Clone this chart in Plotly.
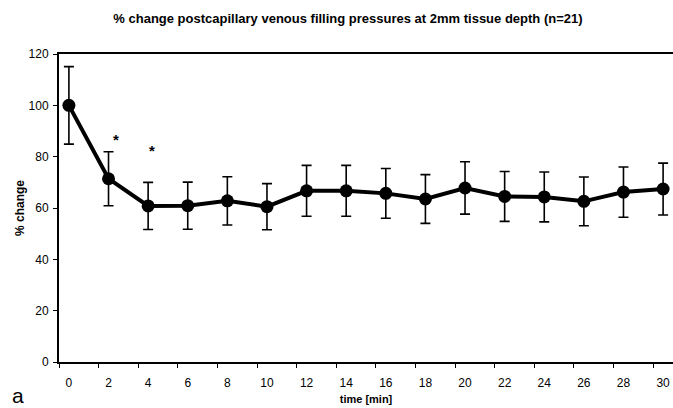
import plotly.graph_objects as go

time_min = [0, 2, 4, 6, 8, 10, 12, 14, 16, 18, 20, 22, 24, 26, 28, 30]
pct_change = [100, 71.4, 60.8, 60.9, 62.8, 60.5, 66.7, 66.7, 65.7, 63.5, 67.8, 64.5, 64.3, 62.6, 66.2, 67.4]
err = [15.1, 10.5, 9.2, 9.2, 9.4, 9.0, 9.9, 9.9, 9.7, 9.5, 10.2, 9.7, 9.7, 9.5, 9.8, 10.1]
sig_x = [2.4, 4.2]
sig_y = [86.5, 82.3]
y_ticks = [0, 20, 40, 60, 80, 100, 120]

FONT = "Liberation Sans, Arial, sans-serif"

fig = go.Figure()
fig.add_trace(go.Scatter(
    x=time_min, y=pct_change, mode="lines+markers",
    line=dict(color="black", width=4),
    marker=dict(color="black", size=13),
    error_y=dict(type="data", array=err, visible=True, color="black", thickness=1.6, width=5),
    showlegend=False,
))
for sx, sy in zip(sig_x, sig_y):
    fig.add_annotation(x=sx, y=sy, text="<b>*</b>", showarrow=False,
                       font=dict(family=FONT, size=15, color="black"))

fig.add_annotation(xref="paper", yref="paper", x=-0.08, y=-0.11, text="a", showarrow=False,
                   xanchor="left", yanchor="middle",
                   font=dict(family=FONT, size=21, color="black"))

fig.update_layout(
    width=673, height=408,
    margin=dict(l=59, r=0, t=54, b=46),
    paper_bgcolor="white", plot_bgcolor="white",
    title=dict(text="<b>% change postcapillary venous filling pressures at 2mm tissue depth (n=21)</b>",
               x=0.517, xanchor="center", y=1 - 18 / 408, yanchor="middle", yref="container",
               font=dict(family=FONT, size=13, color="black")),
    font=dict(family=FONT, size=12, color="black"),
)
fig.update_xaxes(
    range=[-0.5, 30.5], tickmode="array", tickvals=time_min, ticktext=[str(t) for t in time_min],
    ticks="", showgrid=False, zeroline=False,
    showline=True, linecolor="black", linewidth=2, mirror=True,
    ticklabelstandoff=9,
    minor=dict(tick0=-0.5, dtick=2, ticks="outside", ticklen=4, tickcolor="black", tickwidth=1, showgrid=False),
    title=dict(text="<b>time [min]</b>", font=dict(family=FONT, size=11), standoff=6),
)
fig.update_yaxes(
    range=[0, 120], tickmode="array", tickvals=y_ticks,
    ticks="outside", ticklen=4, tickcolor="black", tickwidth=1,
    showgrid=False, zeroline=False,
    showline=True, linecolor="black", linewidth=2,
    ticklabelstandoff=2,
    title=dict(text="<b>% change</b>", font=dict(family=FONT, size=12), standoff=1),
)

fig.write_html("out.html")
